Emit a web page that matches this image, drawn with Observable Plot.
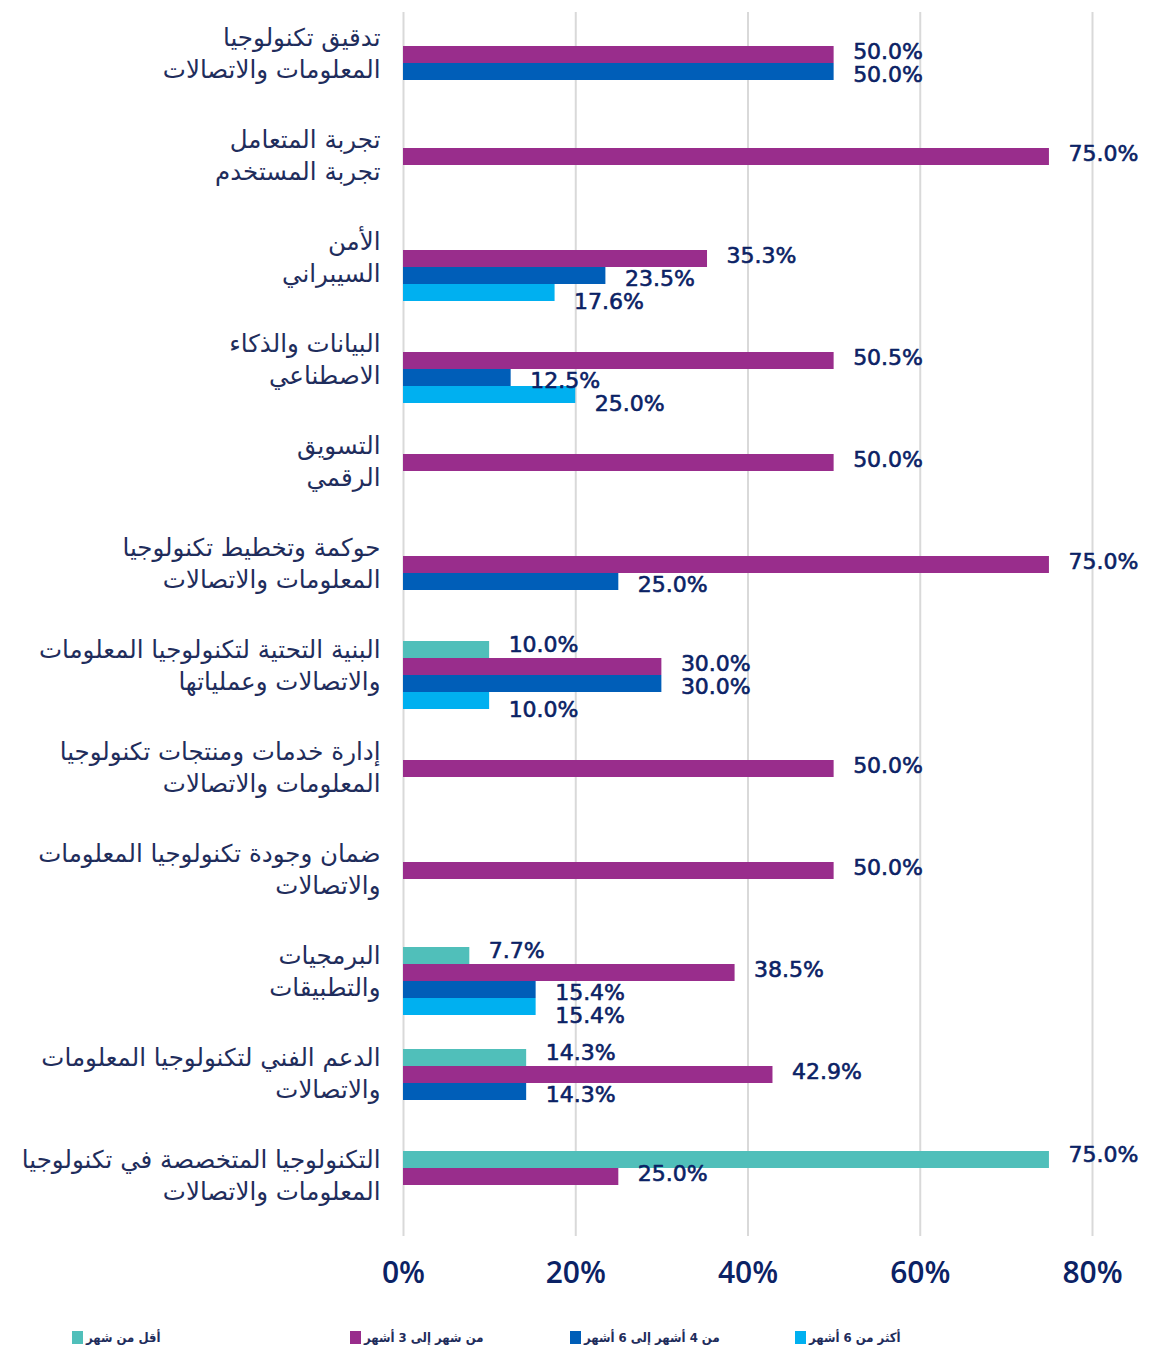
<!DOCTYPE html>
<html>
<head>
<meta charset="utf-8">
<script src="https://cdn.jsdelivr.net/npm/d3@7"></script>
<script src="https://cdn.jsdelivr.net/npm/@observablehq/plot@0.6"></script>
<style>
  body { margin: 0; background: #fff; }
  #chart { width: 1149px; }
  g[aria-label="value-label"] text { letter-spacing: 1px; }
  .legend { position: relative; width: 1149px; height: 38px; font-family: "DejaVu Sans Condensed", "DejaVu Sans", sans-serif; font-weight: bold; font-size: 13px; color: #1F2D5C; }
  .legend .item { position: absolute; top: 20px; display: flex; align-items: center; }
  .legend .sw { width: 11px; height: 13px; margin-right: 3px; }
  .legend .lbl { direction: rtl; }
</style>
</head>
<body>
<div id="chart"></div>
<script>
const categories = [
  "تدقيق تكنولوجيا\nالمعلومات والاتصالات",
  "تجربة المتعامل\nتجربة المستخدم",
  "الأمن\nالسيبراني",
  "البيانات والذكاء\nالاصطناعي",
  "التسويق\nالرقمي",
  "حوكمة وتخطيط تكنولوجيا\nالمعلومات والاتصالات",
  "البنية التحتية لتكنولوجيا المعلومات\nوالاتصالات وعملياتها",
  "إدارة خدمات ومنتجات تكنولوجيا\nالمعلومات والاتصالات",
  "ضمان وجودة تكنولوجيا المعلومات\nوالاتصالات",
  "البرمجيات\nوالتطبيقات",
  "الدعم الفني لتكنولوجيا المعلومات\nوالاتصالات",
  "التكنولوجيا المتخصصة في تكنولوجيا\nالمعلومات والاتصالات"
];

const seriesNames = ["أقل من شهر", "من شهر إلى 3 أشهر", "من 4 أشهر إلى 6 أشهر", "أكثر من 6 أشهر"];
const seriesColors = ["#50BFBA", "#992D8C", "#005EB8", "#00B0F0"];

// values in percent (null = no bar)
const lessThanMonth = [null, null, null, null, null, null, 10, null, null, 7.7, 14.3, 75];
const oneToThreeMonths = [50, 75, 35.3, 50, 50, 75, 30, 50, 50, 38.5, 42.9, 25];
const fourToSixMonths = [50, null, 23.5, 12.5, null, 25, 30, null, null, 15.4, 14.3, null];
const moreThanSixMonths = [null, null, 17.6, 20, null, null, 10, null, null, 15.4, null, null];

// labels as printed on the chart
const lessThanMonthLabels = [null, null, null, null, null, null, "10.0%", null, null, "7.7%", "14.3%", "75.0%"];
const oneToThreeLabels = ["50.0%", "75.0%", "35.3%", "50.5%", "50.0%", "75.0%", "30.0%", "50.0%", "50.0%", "38.5%", "42.9%", "25.0%"];
const fourToSixLabels = ["50.0%", null, "23.5%", "12.5%", null, "25.0%", "30.0%", null, null, "15.4%", "14.3%", null];
const moreThanSixLabels = [null, null, "17.6%", "25.0%", null, null, "10.0%", null, null, "15.4%", null, null];

const xTicks = [0, 0.2, 0.4, 0.6, 0.8];

const seriesValues = [lessThanMonth, oneToThreeMonths, fourToSixMonths, moreThanSixMonths];
const seriesLabels = [lessThanMonthLabels, oneToThreeLabels, fourToSixLabels, moreThanSixLabels];

const rows = [];
categories.forEach((c, i) => {
  seriesNames.forEach((s, j) => {
    const v = seriesValues[j][i];
    if (v != null) rows.push({category: c, series: s, value: v / 100, label: seriesLabels[j][i]});
  });
});

const labelDy = [-5, -3, 3, 9];
const valueFont = "'DejaVu Sans', sans-serif";

const chart = Plot.plot({
  width: 1149,
  height: 1310,
  marginLeft: 403,
  marginRight: 57,
  marginTop: 9,
  marginBottom: 71,
  style: {fontFamily: "'DejaVu Sans', sans-serif", background: "#fff"},
  x: {domain: [0, 0.8], label: null},
  y: {domain: seriesNames, padding: 0, insetTop: 15.25, insetBottom: 15.25, axis: null},
  fy: {domain: categories, padding: 0, axis: null},
  color: {domain: seriesNames, range: seriesColors},
  marks: [
    Plot.gridX(xTicks, {stroke: "#d9d9d9", strokeWidth: 2, strokeOpacity: 1}),
    Plot.axisX(xTicks, {
      label: null,
      tickSize: 0, tickPadding: 25, fontSize: 30, fontWeight: 600,
      fontFamily: "'Open Sans', sans-serif", fill: "#0B2265",
      tickFormat: d => Math.round(d * 100) + "%"
    }),
    Plot.barX(rows, {x: "value", y: "series", fy: "category", fill: "series"}),
    ...seriesNames.map((s, j) => Plot.text(rows.filter(r => r.series === s), {
      x: "value", y: "series", fy: "category", text: "label",
      textAnchor: "start", dx: 19, dy: labelDy[j],
      fontSize: 22, fontFamily: valueFont, fill: "#0B2265",
      stroke: "#0B2265", strokeWidth: 0.6,
      ariaLabel: "value-label"
    })),
    Plot.text(categories, {
      fy: d => d, text: d => d, frameAnchor: "left", textAnchor: "end",
      dx: -23, dy: -12, lineHeight: 1.33, fontSize: 24.5, fill: "#1F2D5C"
    })
  ]
});
document.getElementById("chart").appendChild(chart);

// legend
const legendX = [72, 350, 570, 795];
const legend = document.createElement("div");
legend.className = "legend";
seriesNames.forEach((s, j) => {
  const item = document.createElement("div");
  item.className = "item";
  item.style.left = legendX[j] + "px";
  const sw = document.createElement("span");
  sw.className = "sw";
  sw.style.background = seriesColors[j];
  const lbl = document.createElement("span");
  lbl.className = "lbl";
  lbl.textContent = s;
  item.appendChild(sw);
  item.appendChild(lbl);
  legend.appendChild(item);
});
document.body.appendChild(legend);
</script>
</body>
</html>
